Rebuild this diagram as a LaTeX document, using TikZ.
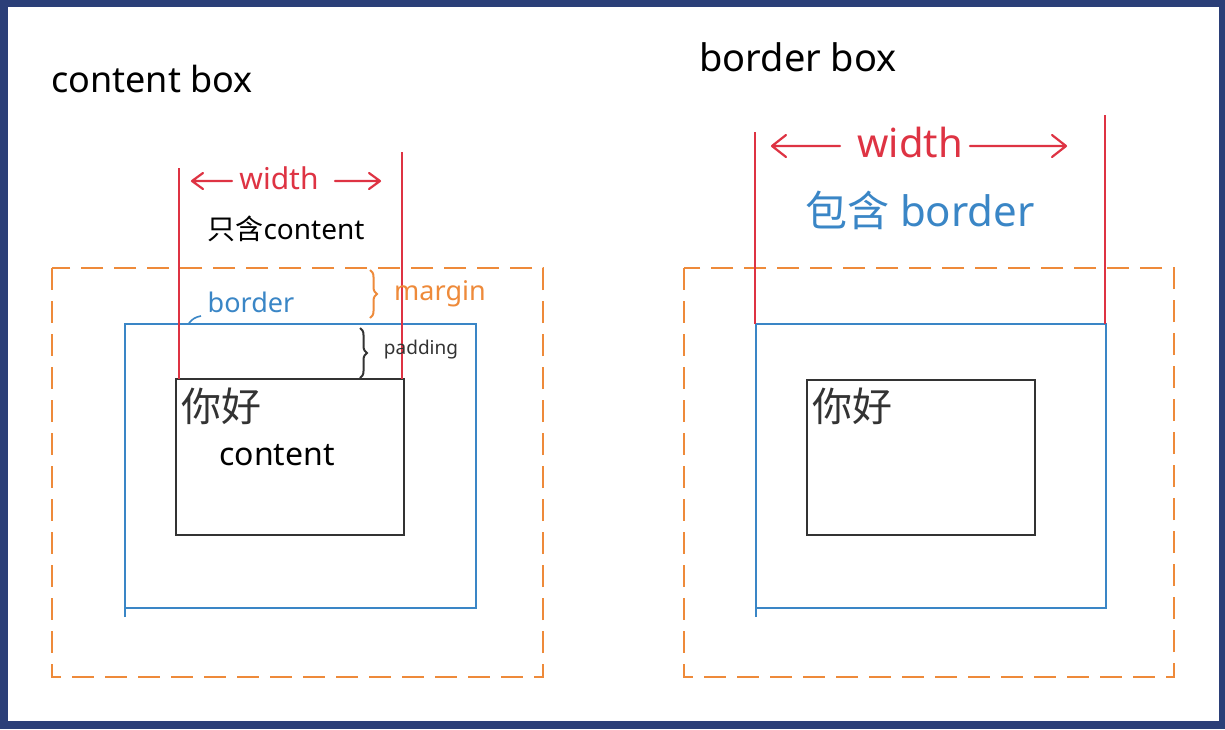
\documentclass[tikz,border=0pt]{standalone}
\usepackage{fontspec}
\setmainfont{Noto Sans}
\newfontfamily\cjk{Noto Sans CJK SC}
\usetikzlibrary{arrows.meta,decorations.pathreplacing}
\definecolor{navy}{HTML}{2B3F78}
\definecolor{pred}{HTML}{DE3343}
\definecolor{pblue}{HTML}{3A86C6}
\definecolor{porange}{HTML}{EE8A3A}
\definecolor{pblack}{HTML}{333333}
\begin{document}
\begin{tikzpicture}[x=1pt,y=-1pt,
  marginbox/.style={draw=porange,line width=2.4pt,dash pattern=on 22pt off 11pt},
  borderbox/.style={draw=pblue,line width=2.3pt},
  contentbox/.style={draw=pblack,line width=1.9pt},
  widthline/.style={draw=pred,line width=1.9pt},
  widtharrow/.style={draw=pred,line width=2.2pt,line cap=round,line join=round},
  lbl/.style={inner sep=0pt,anchor=center},
  bracestyle/.style={decorate,decoration={brace,amplitude=7pt},line width=2pt}
]
\useasboundingbox (0,0) rectangle (1225,729);
\fill[navy] (0,0) rectangle (1225,729);
\fill[white] (8,7) rectangle (1219,721);

% ---------- left: content box ----------
\node[lbl,font=\fontsize{36}{40}\selectfont,text=black] (t1) at (152,79) {content box};
\draw[marginbox] (52,268) rectangle (543,677);
\draw[borderbox] (125,617) -- (125,324) -- (476,324) -- (476,608) -- (125,608);
\draw[contentbox] (176,379) rectangle (404,535);
\coordinate (l1top) at (179,168);
\coordinate (l1bot) at (179,379);
\coordinate (r1top) at (402,152);
\coordinate (r1bot) at (402,379);
\draw[widthline] (l1top) -- (l1bot);
\draw[widthline] (r1top) -- (r1bot);
\node[lbl,font=\fontsize{30}{34}\selectfont,text=pred] (w1) at (279,178) {width};
\coordinate (a1s) at (232,181);
\coordinate (a1e) at (192,181);
\coordinate (a2s) at (335,181);
\coordinate (a2e) at (380,181);
\draw[widtharrow] (a1s) -- (a1e) -- ++(11,-8) (a1e) -- ++(11,8);
\draw[widtharrow] (a2s) -- (a2e) -- ++(-11,-8) (a2e) -- ++(-11,8);
\node[lbl,font=\fontsize{28}{32}\selectfont,text=black] (only) at (286,229) {{\cjk 只含}content};
\node[lbl,font=\fontsize{27}{30}\selectfont,text=pblue] (bd1) at (251,302) {border};
\coordinate (tk1) at (189,323);
\coordinate (tk2) at (201,316);
\draw[pblue,line width=1.6pt] (tk1) to[bend left=20] (tk2);
\coordinate (mb1) at (370,270);
\coordinate (mb2) at (370,318);
\draw[bracestyle,draw=porange] (mb1) -- (mb2);
\node[lbl,font=\fontsize{27}{30}\selectfont,text=porange] (mg) at (440,294) {margin};
\coordinate (pb1) at (360,328);
\coordinate (pb2) at (360,378);
\draw[bracestyle,draw=pblack] (pb1) -- (pb2);
\node[lbl,font=\fontsize{19}{22}\selectfont,text=pblack] (pd) at (421,350) {padding};
\node[lbl,font=\fontsize{40}{44}\selectfont\cjk,text=pblack] (nh1) at (221,406) {你好};
\node[lbl,font=\fontsize{32}{36}\selectfont,text=black] (ct) at (277,455) {content};

% ---------- right: border box ----------
\node[lbl,font=\fontsize{38}{42}\selectfont,text=black] (t2) at (798,57) {border box};
\draw[marginbox] (684,268) rectangle (1174,677);
\draw[borderbox] (756,617) -- (756,324) -- (1106,324) -- (1106,608) -- (756,608);
\draw[contentbox] (807,380) rectangle (1035,535);
\coordinate (l2top) at (755,132);
\coordinate (l2bot) at (755,324);
\coordinate (r2top) at (1105,115);
\coordinate (r2bot) at (1105,324);
\draw[widthline] (l2top) -- (l2bot);
\draw[widthline] (r2top) -- (r2bot);
\node[lbl,font=\fontsize{40}{44}\selectfont,text=pred] (w2) at (910,142) {width};
\coordinate (b1s) at (840,146);
\coordinate (b1e) at (772,146);
\coordinate (b2s) at (970,146);
\coordinate (b2e) at (1066,146);
\draw[widtharrow] (b1s) -- (b1e) -- ++(14,-11) (b1e) -- ++(14,11);
\draw[widtharrow] (b2s) -- (b2e) -- ++(-14,-11) (b2e) -- ++(-14,11);
\node[lbl,font=\fontsize{42}{46}\selectfont,text=pblue] (inc) at (920,210) {{\cjk 包含} border};
\node[lbl,font=\fontsize{40}{44}\selectfont\cjk,text=pblack] (nh2) at (852,406) {你好};
\end{tikzpicture}
\end{document}
